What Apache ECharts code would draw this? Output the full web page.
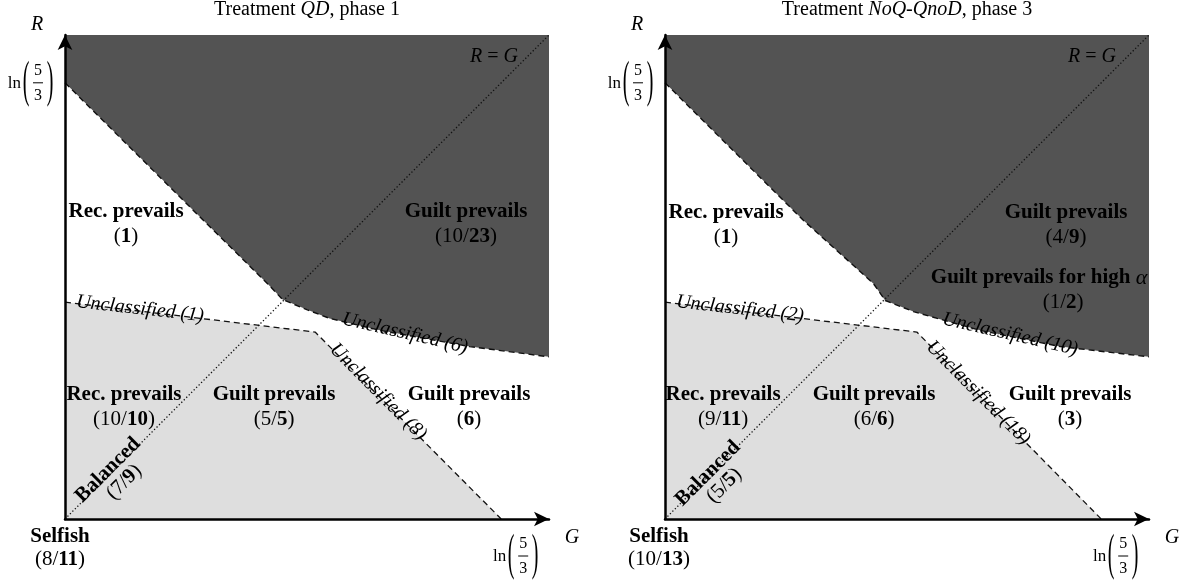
<!DOCTYPE html>
<html>
<head>
<meta charset="utf-8">
<script src="https://cdn.jsdelivr.net/npm/echarts@6/dist/echarts.min.js"></script>
<style>
  html, body { margin: 0; padding: 0; background: #fff; }
  #chart { width: 1183px; height: 582px; }
</style>
</head>
<body>
<div id="chart"></div>
<script>
// ---- values -------------------------------------------------------------
const LN53 = 0.511;      // ln(5/3), the marked tick on both axes
const AX_MAX = 0.567;    // end of both axes

const panelTitles = ['Treatment {i|QD}, phase 1', 'Treatment {i|NoQ-QnoD}, phase 3'];

// lower edge of the dark "guilt prevails" region, from the R axis to the right edge
const guiltEdgeQD  = [[0, 0.511], [0.162, 0.350], [0.237, 0.276], [0.255, 0.257], [0.284, 0.245],
                      [0.310, 0.235], [0.369, 0.221], [0.474, 0.202], [0.567, 0.190]];
const guiltEdgeNoQ = [[0, 0.511], [0.162, 0.350], [0.244, 0.276], [0.258, 0.256], [0.291, 0.243],
                      [0.319, 0.235], [0.369, 0.221], [0.463, 0.202], [0.567, 0.190]];

// upper edge of the light region around the origin
const lowerEdgeQD  = [[0, 0.254], [0.293, 0.219], [0.511, 0]];
const lowerEdgeNoQ = [[0, 0.254], [0.295, 0.219], [0.511, 0]];

// the R = G line
const diagonal = [[0, 0], [0.567, 0.567]];

// region names and subject counts: [bold] or [plain, bold]
const regionNamesQD   = ['Rec. prevails', 'Guilt prevails', 'Rec. prevails', 'Guilt prevails', 'Guilt prevails', 'Balanced', 'Selfish'];
const regionCountsQD  = [[1], [10, 23], [10, 10], [5, 5], [6], [7, 9], [8, 11]];
const regionNamesNoQ  = ['Rec. prevails', 'Guilt prevails', 'Guilt prevails for high {a|α}', 'Rec. prevails', 'Guilt prevails', 'Guilt prevails', 'Balanced', 'Selfish'];
const regionCountsNoQ = [[1], [4, 9], [1, 2], [9, 11], [6, 6], [3], [5, 5], [10, 13]];

// unclassified subjects along the boundaries
const unclassifiedQD  = [1, 6, 8];
const unclassifiedNoQ = [2, 10, 18];

// ---- label placement (data anchors, rotation in degrees) ------------------
const regionSpotsQD = [
  { at: [0.0715, 0.3456] }, { at: [0.4698, 0.3456] },
  { at: [0.0691, 0.1312] }, { at: [0.2449, 0.1312] }, { at: [0.4733, 0.1312] },
  { at: [0.0586, 0.0490], rot: 45, gap: 20, cdx: 3 },
  { at: [0, 0], dx: -5, dy: 29, gap: 23 }
];
const regionSpotsNoQ = [
  { at: [0.0715, 0.3444] }, { at: [0.4698, 0.3444] },
  { at: [0.4382, 0.2680], cdx: 24 },
  { at: [0.0680, 0.1312] }, { at: [0.2449, 0.1312] }, { at: [0.4745, 0.1312] },
  { at: [0.0586, 0.0450], rot: 45, gap: 20, cdx: 3 },
  { at: [0, 0], dx: -6, dy: 29, gap: 23 }
];
const unclassSpotsQD  = [{ at: [0.0879, 0.2460], rot: -6.4 }, { at: [0.3983, 0.2175], rot: -13 }, { at: [0.3667, 0.1488], rot: -45 }];
const unclassSpotsNoQ = [{ at: [0.0879, 0.2460], rot: -6.4 }, { at: [0.4042, 0.2162], rot: -13 }, { at: [0.3667, 0.1476], rot: -45 }];
const diagLabelSpots  = [[0.5026, 0.5413], [0.5003, 0.5413]];

// ---- drawing ----------------------------------------------------------------
const SERIF = '"Liberation Serif", "Times New Roman", serif';
const DEG = Math.PI / 180;
const FS = 21;

const RICH = {
  r: { fontFamily: SERIF, fontSize: FS, fontWeight: 'normal', fill: '#000' },
  b: { fontFamily: SERIF, fontSize: FS, fontWeight: 'bold', fill: '#000' },
  a: { fontFamily: SERIF, fontSize: FS + 1, fontWeight: 'normal', fontStyle: 'italic', fill: '#000' },
  i: { fontFamily: SERIF, fontSize: 20, fontStyle: 'italic', fill: '#000' }
};

function countText(c) {
  return c.length === 1
    ? '{r|(}{b|' + c[0] + '}{r|)}'
    : '{r|(' + c[0] + '/}{b|' + c[1] + '}{r|)}';
}

function txt(x, y, text, extra) {
  return {
    type: 'text', x: x, y: y,
    style: Object.assign({
      text: text, fontFamily: SERIF, fontSize: FS, fill: '#000',
      align: 'center', verticalAlign: 'middle', rich: RICH
    }, extra || {})
  };
}

// "ln(5/3)" written with a stacked fraction, centred on (cx, cy)
function lnFraction(cx, cy) {
  const paren = (x, s) => ({
    type: 'text', x: x, y: cy, scaleY: 2.5,
    style: { text: s, fontFamily: SERIF, fontSize: 20, fill: '#000', align: 'center', verticalAlign: 'middle' }
  });
  return [
    txt(cx - 17, cy + 1, 'ln', { align: 'right', fontSize: 17 }),
    paren(cx - 12, '('),
    paren(cx + 12, ')'),
    txt(cx, cy - 12, '5', { fontSize: 16 }),
    { type: 'line', shape: { x1: cx - 5, y1: cy, x2: cx + 5, y2: cy }, style: { stroke: '#000', lineWidth: 1 } },
    txt(cx, cy + 13, '3', { fontSize: 16 })
  ];
}

function panelSeries(pi, guiltEdge, lowerEdge, names, counts, spots, unclass, unclassSpots) {
  const ax = { xAxisIndex: pi, yAxisIndex: pi };
  const darkPoly = [[0, AX_MAX], [AX_MAX, AX_MAX]].concat(guiltEdge.slice().reverse());
  const lightPoly = [[0, 0]].concat(lowerEdge);
  const polys = [lightPoly, darkPoly];
  const fills = ['#dedede', '#535353'];

  return [
    // filled regions
    Object.assign({
      type: 'custom', z: 1, silent: true, clip: false,
      data: polys.map(p => p[0]),
      renderItem: (params, api) => ({
        type: 'polygon',
        shape: { points: polys[params.dataIndex].map(pt => api.coord(pt)) },
        style: { fill: fills[params.dataIndex] }
      })
    }, ax),
    // region boundaries
    Object.assign({
      type: 'line', z: 3, silent: true, symbol: 'none', data: guiltEdge,
      lineStyle: { color: '#111', width: 1.4, type: [6, 4] }
    }, ax),
    Object.assign({
      type: 'line', z: 3, silent: true, symbol: 'none', data: lowerEdge,
      lineStyle: { color: '#111', width: 1.3, type: [6, 4] }
    }, ax),
    // R = G
    Object.assign({
      type: 'line', z: 3, silent: true, symbol: 'none', data: diagonal,
      lineStyle: { color: '#111', width: 1.3, type: [1.3, 2.2] }
    }, ax),
    // text
    Object.assign({
      type: 'custom', z: 6, silent: true, clip: false,
      data: [[0, 0]],
      renderItem: (params, api) => {
        const kids = [];
        names.forEach((name, i) => {
          const s = spots[i];
          const p = api.coord(s.at);
          const gap = s.gap || 25;
          kids.push({
            type: 'group', x: p[0] + (s.dx || 0), y: p[1] + (s.dy || 0), rotation: (s.rot || 0) * DEG,
            children: [
              txt(0, -gap / 2, name, { fontWeight: 'bold' }),
              txt(s.cdx || 0, gap / 2, countText(counts[i]))
            ]
          });
        });
        unclass.forEach((n, i) => {
          const s = unclassSpots[i];
          const p = api.coord(s.at);
          kids.push({
            type: 'group', x: p[0], y: p[1], rotation: s.rot * DEG,
            children: [txt(0, 0, 'Unclassified (' + n + ')', { fontStyle: 'italic', fontSize: 20 })]
          });
        });
        const d = api.coord(diagLabelSpots[pi]);
        kids.push(txt(d[0], d[1], '{i|R} = {i|G}', { fontSize: 20 }));
        // axis names
        const top = api.coord([0, AX_MAX]);
        kids.push(txt(top[0] - 28, top[1] - 10, 'R', { fontStyle: 'italic', fontSize: 20 }));
        const right = api.coord([AX_MAX, 0]);
        kids.push(txt(right[0] + 23, right[1] + 19, 'G', { fontStyle: 'italic', fontSize: 20 }));
        // ln(5/3) on each axis
        const ty = api.coord([0, LN53]);
        lnFraction(ty[0] - 27, ty[1]).forEach(e => kids.push(e));
        const tx = api.coord([LN53, 0]);
        lnFraction(tx[0] + 22, tx[1] + 37).forEach(e => kids.push(e));
        return { type: 'group', children: kids };
      }
    }, ax)
  ];
}

function axis(i) {
  return {
    type: 'value', gridIndex: i, min: 0, max: AX_MAX, z: 5,
    axisLine: {
      show: true, onZero: false,
      symbol: ['none', 'arrow'], symbolSize: [11, 15],
      lineStyle: { color: '#000', width: 2.5 }
    },
    axisTick: { show: false }, axisLabel: { show: false }, splitLine: { show: false }
  };
}

const chart = echarts.init(document.getElementById('chart'), null, { renderer: 'canvas' });
chart.setOption({
  animation: false,
  backgroundColor: '#fff',
  title: panelTitles.map((t, i) => ({
    text: t, left: i === 0 ? 307 : 907, top: 0, padding: 0, textAlign: 'center',
    textStyle: {
      fontFamily: SERIF, fontSize: 20, fontWeight: 'normal', color: '#000',
      rich: { i: { fontFamily: SERIF, fontSize: 20, fontStyle: 'italic', color: '#000' } }
    }
  })),
  grid: [
    { left: 65, top: 35, width: 484, height: 484 },
    { left: 665, top: 35, width: 484, height: 484 }
  ],
  xAxis: [axis(0), axis(1)],
  yAxis: [axis(0), axis(1)],
  series: [].concat(
    panelSeries(0, guiltEdgeQD, lowerEdgeQD, regionNamesQD, regionCountsQD, regionSpotsQD, unclassifiedQD, unclassSpotsQD),
    panelSeries(1, guiltEdgeNoQ, lowerEdgeNoQ, regionNamesNoQ, regionCountsNoQ, regionSpotsNoQ, unclassifiedNoQ, unclassSpotsNoQ)
  )
});
</script>
</body>
</html>
